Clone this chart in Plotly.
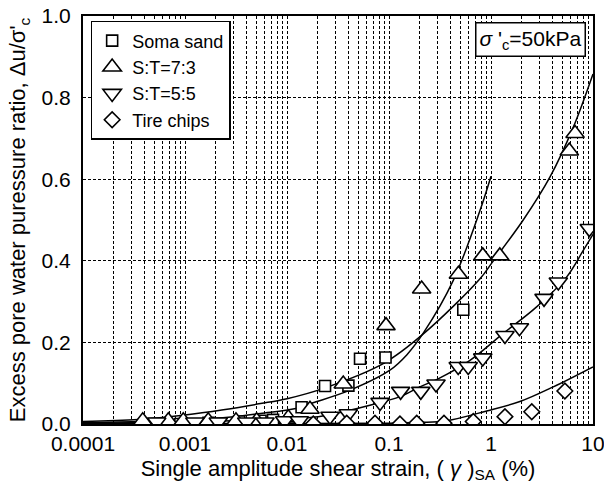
import plotly.graph_objects as go

# ---- data ----
soma_x = [0.00045, 0.0009, 0.0017, 0.0034, 0.0055, 0.0073, 0.0139, 0.0236, 0.040, 0.052, 0.0925, 0.535]
soma_y = [0.0, 0.0, 0.003, 0.006, 0.008, 0.010, 0.041, 0.093, 0.094, 0.160, 0.163, 0.280]

st73_x = [0.000385, 0.000686, 0.000962, 0.00169, 0.00316, 0.00504, 0.0103, 0.0168, 0.0356,
          0.0935, 0.209, 0.479, 0.83, 1.22, 5.86, 6.67]
st73_y = [0.008, 0.008, 0.008, 0.008, 0.008, 0.008, 0.015, 0.036, 0.098,
          0.241, 0.331, 0.367, 0.412, 0.412, 0.669, 0.712]

st55_x = [0.000528, 0.00125, 0.00212, 0.00403, 0.00608, 0.0095, 0.0132, 0.0264, 0.0399, 0.0817,
          0.130, 0.205, 0.289, 0.477, 0.598, 0.830, 1.37, 1.90, 3.31, 4.57, 9.2]
st55_y = [0.005, 0.005, 0.005, 0.005, 0.005, 0.008, 0.008, 0.019, 0.025, 0.053,
          0.080, 0.080, 0.098, 0.141, 0.141, 0.162, 0.217, 0.236, 0.308, 0.348, 0.479]

tire_x = [0.0181, 0.0385, 0.0729, 0.128, 0.187, 0.346, 0.67, 1.37, 2.51, 5.3]
tire_y = [0.0, 0.002, 0.002, 0.0, 0.002, 0.002, 0.006, 0.018, 0.030, 0.081]

# fitted curves
curveA_x = [0.0001, 0.00035, 0.001, 0.00238, 0.0055, 0.01, 0.0232, 0.0905, 0.22, 0.78, 1.02, 2.07, 3.78, 6.4, 10]
curveA_y = [0.006, 0.011, 0.022, 0.035, 0.050, 0.062, 0.088, 0.150, 0.222, 0.356, 0.395, 0.500, 0.605, 0.727, 0.858]

curveB_x = [0.0001, 0.001, 0.003, 0.0055, 0.0122, 0.018, 0.0415, 0.102, 0.15, 0.22, 0.427, 0.78, 1.0]
curveB_y = [0.003, 0.010, 0.018, 0.026, 0.038, 0.052, 0.083, 0.132, 0.170, 0.225, 0.352, 0.523, 0.607]

curveC_x = [0.0001, 0.001, 0.005, 0.0203, 0.0356, 0.065, 0.128, 0.201, 0.316, 0.622, 1.32, 2.8, 5.5, 8.0, 10]
curveC_y = [0.002, 0.005, 0.010, 0.018, 0.030, 0.046, 0.067, 0.091, 0.113, 0.156, 0.222, 0.287, 0.360, 0.425, 0.465]

curveD_x = [0.0001, 0.01, 0.1, 0.2, 0.367, 0.908, 1.92, 4.08, 10]
curveD_y = [0.001, 0.001, 0.002, 0.004, 0.008, 0.032, 0.055, 0.091, 0.140]

x_tickvals = [0.0001, 0.001, 0.01, 0.1, 1, 10]
x_ticktext = ["0.0001", "0.001", "0.01", "0.1", "1", "10"]
y_tickvals = [0.0, 0.2, 0.4, 0.6, 0.8, 1.0]

FONT = "Liberation Sans, Arial, sans-serif"

fig = go.Figure()

for cx, cy in [(curveA_x, curveA_y), (curveB_x, curveB_y), (curveC_x, curveC_y), (curveD_x, curveD_y)]:
    fig.add_trace(go.Scatter(x=cx, y=cy, mode="lines", showlegend=False, hoverinfo="skip",
                             line=dict(color="black", width=1.5, shape="spline", smoothing=1.0)))

mk_line = dict(color="black", width=1.6)
fig.add_trace(go.Scatter(x=soma_x, y=soma_y, mode="markers", name="Soma sand",
                         marker=dict(symbol="square", size=11, color="white", line=mk_line)))
fig.add_trace(go.Scatter(x=st73_x, y=st73_y, mode="markers", name="S:T=7:3",
                         marker=dict(symbol="triangle-up", size=16, color="white", line=mk_line)))
fig.add_trace(go.Scatter(x=st55_x, y=st55_y, mode="markers", name="S:T=5:5",
                         marker=dict(symbol="triangle-down", size=16, color="white", line=mk_line)))
fig.add_trace(go.Scatter(x=tire_x, y=tire_y, mode="markers", name="Tire chips",
                         marker=dict(symbol="diamond", size=12, color="white", line=mk_line)))

fig.add_annotation(xref="paper", yref="paper", x=0.986, y=0.986, xanchor="right", yanchor="top",
                   text="<i>σ</i> '<sub>c</sub>=50kPa", showarrow=False,
                   font=dict(family=FONT, size=21, color="black"),
                   bordercolor="black", borderwidth=1.5, borderpad=3, bgcolor="white")

fig.update_layout(
    width=604, height=490,
    margin=dict(l=83, r=11, t=16, b=66, autoexpand=False),
    paper_bgcolor="white", plot_bgcolor="white",
    font=dict(family=FONT, color="black"),
    legend=dict(x=0.015, y=0.988, xanchor="left", yanchor="top",
                bgcolor="white", bordercolor="black", borderwidth=1.5,
                font=dict(family=FONT, size=18, color="black"),
                tracegroupgap=0),
)

fig.update_xaxes(
    type="log", range=[-4, 1], automargin=False, ticklabeloverflow="allow",
    tickmode="array", tickvals=x_tickvals, ticktext=x_ticktext,
    tickfont=dict(family=FONT, size=21, color="black"),
    showline=True, linecolor="black", linewidth=2, mirror=True,
    showgrid=True, gridcolor="black", gridwidth=1, griddash="3px,2px",
    minor=dict(dtick="D1", showgrid=True, gridcolor="black", gridwidth=1, griddash="3px,2px"),
    ticks="", zeroline=False,
    title=dict(text="Single amplitude shear strain, ( <i>γ</i> )<sub>SA</sub> (%)",
               font=dict(family=FONT, size=22, color="black"), standoff=6),
)
fig.update_yaxes(
    range=[0, 1], automargin=False, ticklabeloverflow="allow",
    tickmode="array", tickvals=y_tickvals, tickformat=".1f",
    tickfont=dict(family=FONT, size=21, color="black"),
    showline=True, linecolor="black", linewidth=2, mirror=True,
    showgrid=True, gridcolor="black", gridwidth=1, griddash="3px,2px",
    ticks="", zeroline=False, ticklabelstandoff=6,
    title=dict(text="Excess pore water puressure ratio, Δu/σ'<sub>c</sub>",
               font=dict(family=FONT, size=22, color="black"), standoff=10),
)

fig.write_html("out.html")
